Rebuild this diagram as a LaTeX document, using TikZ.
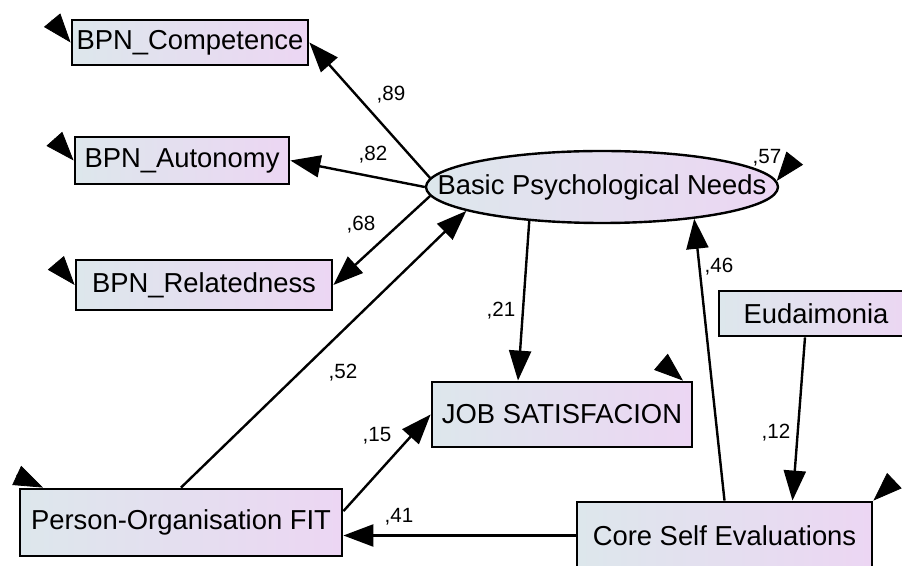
\documentclass[tikz,border=0pt]{standalone}
\usepackage{fontspec}
\setmainfont{Liberation Sans}
\usepackage{tikz}
\usetikzlibrary{shapes.geometric, arrows.meta}
\definecolor{amosgray}{RGB}{221, 231, 236}
\definecolor{amospink}{RGB}{236, 214, 243}
\tikzset{
    obsvar/.style={rectangle, draw, line width=1.4pt, left color=amosgray, right color=amospink, inner sep=0pt, font=\fontsize{13.7}{16}\selectfont},
    latvar/.style={ellipse, draw, line width=1.2pt, left color=amosgray, right color=amospink, inner xsep=-21pt, inner ysep=0pt, font=\fontsize{13.7}{16}\selectfont},
    regline/.style={draw, line width=1.2pt, -{Triangle[length=15pt, width=11pt]}},
    errline/.style={line width=0.4pt, -{Triangle[length=14.5pt, width=10.5pt]}},
    coef/.style={inner sep=0pt, font=\fontsize{10.3}{12}\selectfont}
}

\begin{document}
\begin{tikzpicture}[x=0.5pt, y=-0.5pt]
    \useasboundingbox (0,0) rectangle (902,566);
    \clip (0,0) rectangle (902,566);

    % Variables
    \node[obsvar, minimum width=118pt, minimum height=22.5pt] (comp) at (190,42.5) {BPN\_Competence};
    \node[obsvar, minimum width=107pt, minimum height=23.5pt] (aut) at (182,160.5) {BPN\_Autonomy};
    \node[obsvar, minimum width=128pt, minimum height=25pt] (rel) at (204,285) {BPN\_Relatedness};
    \node[latvar, minimum width=176pt, minimum height=36pt] (bpn) at (602,187) {Basic Psychological Needs};
    \node[obsvar, minimum width=130pt, minimum height=32.5pt] (job) at (562,414.5) {JOB SATISFACION};
    \node[obsvar, minimum width=161pt, minimum height=33.5pt] (pof) at (181,522.5) {Person-Organisation FIT};
    \node[obsvar, minimum width=147.5pt, minimum height=33.5pt] (cse) at (724.5,535.5) {Core Self Evaluations};
    \node[obsvar, minimum width=97pt, minimum height=22.5pt] (eud) at (816,313.5) {Eudaimonia};

    % Paths
    \draw[regline] (bpn.177) -- (comp.east);
    \draw[regline] (bpn.west) -- (aut.east);
    \draw[regline] (bpn.183) -- (rel.east);
    \draw[regline] (pof.north) -- (bpn.190);
    \draw[regline] (bpn.205) -- ([xshift=-22pt]job.north);
    \draw[regline] (pof.4) -- (job.west);
    \draw[regline] (cse.west) -- (cse.west -| pof.east);
    \draw[regline] (cse.north) -- (bpn.341);
    \draw[regline] ([xshift=-5.5pt]eud.south) -- ([xshift=34pt]cse.north);

    % Error terms
    \coordinate (ecomp) at (51.8,19.8);
    \coordinate (eaut) at (54.3,138.8);
    \coordinate (erel) at (55.8,262.8);
    \coordinate (epof) at (16.3,475.2);
    \coordinate (ejob) at (660.9,361.8);
    \coordinate (ecse) at (893.7,481.3);
    \coordinate (ebpn) at (794.9,158);
    \draw[errline] (ecomp) -- (comp.west);
    \draw[errline] (eaut) -- (aut.west);
    \draw[errline] (erel) -- (rel.west);
    \draw[errline] (epof) -- ([xshift=-69pt]pof.north);
    \draw[errline] (ejob) -- ([xshift=60.5pt]job.north);
    \draw[errline] (ecse) -- (cse.north east);
    \draw[errline] (ebpn) -- (bpn.2);

    % Labels
    \node[coef] (c89) at (391,95) {,89};
    \node[coef] (c82) at (373,155) {,82};
    \node[coef] (c68) at (361,225) {,68};
    \node[coef] (c52) at (343,373) {,52};
    \node[coef] (c21) at (501,311) {,21};
    \node[coef] (c15) at (377,436) {,15};
    \node[coef] (c41) at (399,517) {,41};
    \node[coef] (c46) at (719,267) {,46};
    \node[coef] (c12) at (776,433) {,12};
    \node[coef] (c57) at (767,158) {,57};
\end{tikzpicture}
\end{document}
